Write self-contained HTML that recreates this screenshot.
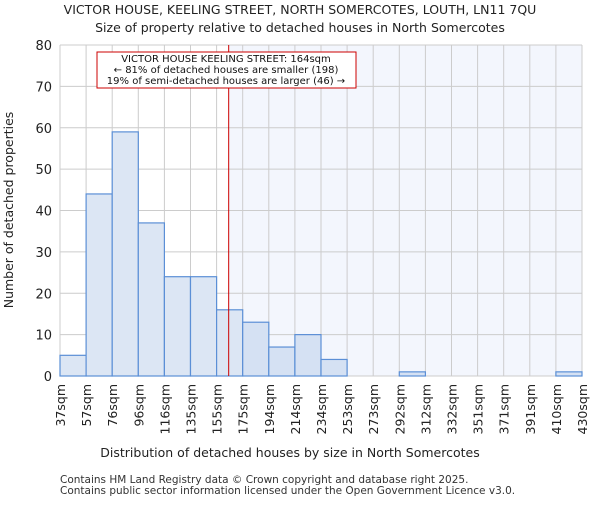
<!DOCTYPE html>
<html><head><meta charset="utf-8"><style>
body{margin:0;background:#fff;}
svg text{font-family:"DejaVu Sans","Liberation Sans",sans-serif;}
</style></head><body>
<svg id="chart" width="600" height="500" xmlns="http://www.w3.org/2000/svg">
<text x="300" y="14" text-anchor="middle" font-size="12.5" fill="#222">VICTOR HOUSE, KEELING STREET, NORTH SOMERCOTES, LOUTH, LN11 7QU</text>
<text x="300" y="32" text-anchor="middle" font-size="12.5" fill="#222">Size of property relative to detached houses in North Somercotes</text>
<g id="plot"></g>
<text x="290" y="457" text-anchor="middle" font-size="12.5" fill="#222">Distribution of detached houses by size in North Somercotes</text>
<text transform="translate(13,210) rotate(-90)" text-anchor="middle" font-size="12.5" fill="#222">Number of detached properties</text>
<text x="60" y="483" font-size="10.5" fill="#333">Contains HM Land Registry data © Crown copyright and database right 2025.</text>
<text x="60" y="494" font-size="10.5" fill="#333">Contains public sector information licensed under the Open Government Licence v3.0.</text>
</svg>
<script>
const categories=["37sqm","57sqm","76sqm","96sqm","116sqm","135sqm","155sqm","175sqm","194sqm","214sqm","234sqm","253sqm","273sqm","292sqm","312sqm","332sqm","351sqm","371sqm","391sqm","410sqm","430sqm"];
const counts=[5,44,59,37,24,24,16,13,7,10,4,0,0,1,0,0,0,0,0,1];
const yTicks=[0,10,20,30,40,50,60,70,80];
const markerValue=164;
const binStart=37, binWidthSqm=19.65;
const X0=60,X1=582,Y0=376,Y1=45,YMAX=80;
const bw=(X1-X0)/counts.length;
const xs=i=>X0+i*bw;
const xv=v=>X0+(v-binStart)/binWidthSqm*bw;
const y=v=>Y0-(v/YMAX)*(Y0-Y1);
const NS="http://www.w3.org/2000/svg";
const g=document.getElementById('plot');
function mk(t,a){const e=document.createElementNS(NS,t);for(const k in a)e.setAttribute(k,a[k]);g.appendChild(e);return e;}
const mx=xv(markerValue);
let r=mk('rect',{x:mx,y:Y1,width:X1-mx,height:Y0-Y1,fill:'#f3f6fd'});


for(let i=0;i<=counts.length;i++){let l=mk('line',{x1:xs(i),x2:xs(i),y1:Y1,y2:Y0,stroke:'#cccccc','stroke-width':1});

}
yTicks.forEach(t=>{let l=mk('line',{x1:X0,x2:X1,y1:y(t),y2:y(t),stroke:'#cccccc','stroke-width':1});


let tx=mk('text',{x:X0-8,y:y(t)+5,'text-anchor':'end','font-size':13,fill:'#222'});tx.textContent=t;

});
counts.forEach((c,i)=>{if(c<=0)return;const right=xs(i)>=mx-1;
let b=mk('rect',{x:xs(i),y:y(c),width:bw,height:Y0-y(c),fill:right?'#d5e1f3':'#dce6f4',stroke:'#5b8fd6','stroke-width':1.2});

});
categories.forEach((c,i)=>{let t=mk('text',{transform:`translate(${xs(i)+5},${Y0+8}) rotate(-90)`,'text-anchor':'end','font-size':12.5,fill:'#222'});t.textContent=c;

});
let ml=mk('line',{x1:mx,x2:mx,y1:Y1,y2:Y0,stroke:'#cc0000','stroke-width':1});


let box=mk('rect',{x:97,y:52,width:259,height:36,fill:'#fff',stroke:'#cc0000','stroke-width':1});


["VICTOR HOUSE KEELING STREET: 164sqm","← 81% of detached houses are smaller (198)","19% of semi-detached houses are larger (46) →"].forEach((s,i)=>{let t=mk('text',{x:226,y:62+i*11,'text-anchor':'middle','font-size':10,fill:'#111'});t.textContent=s;

});
</script>
</body></html>
